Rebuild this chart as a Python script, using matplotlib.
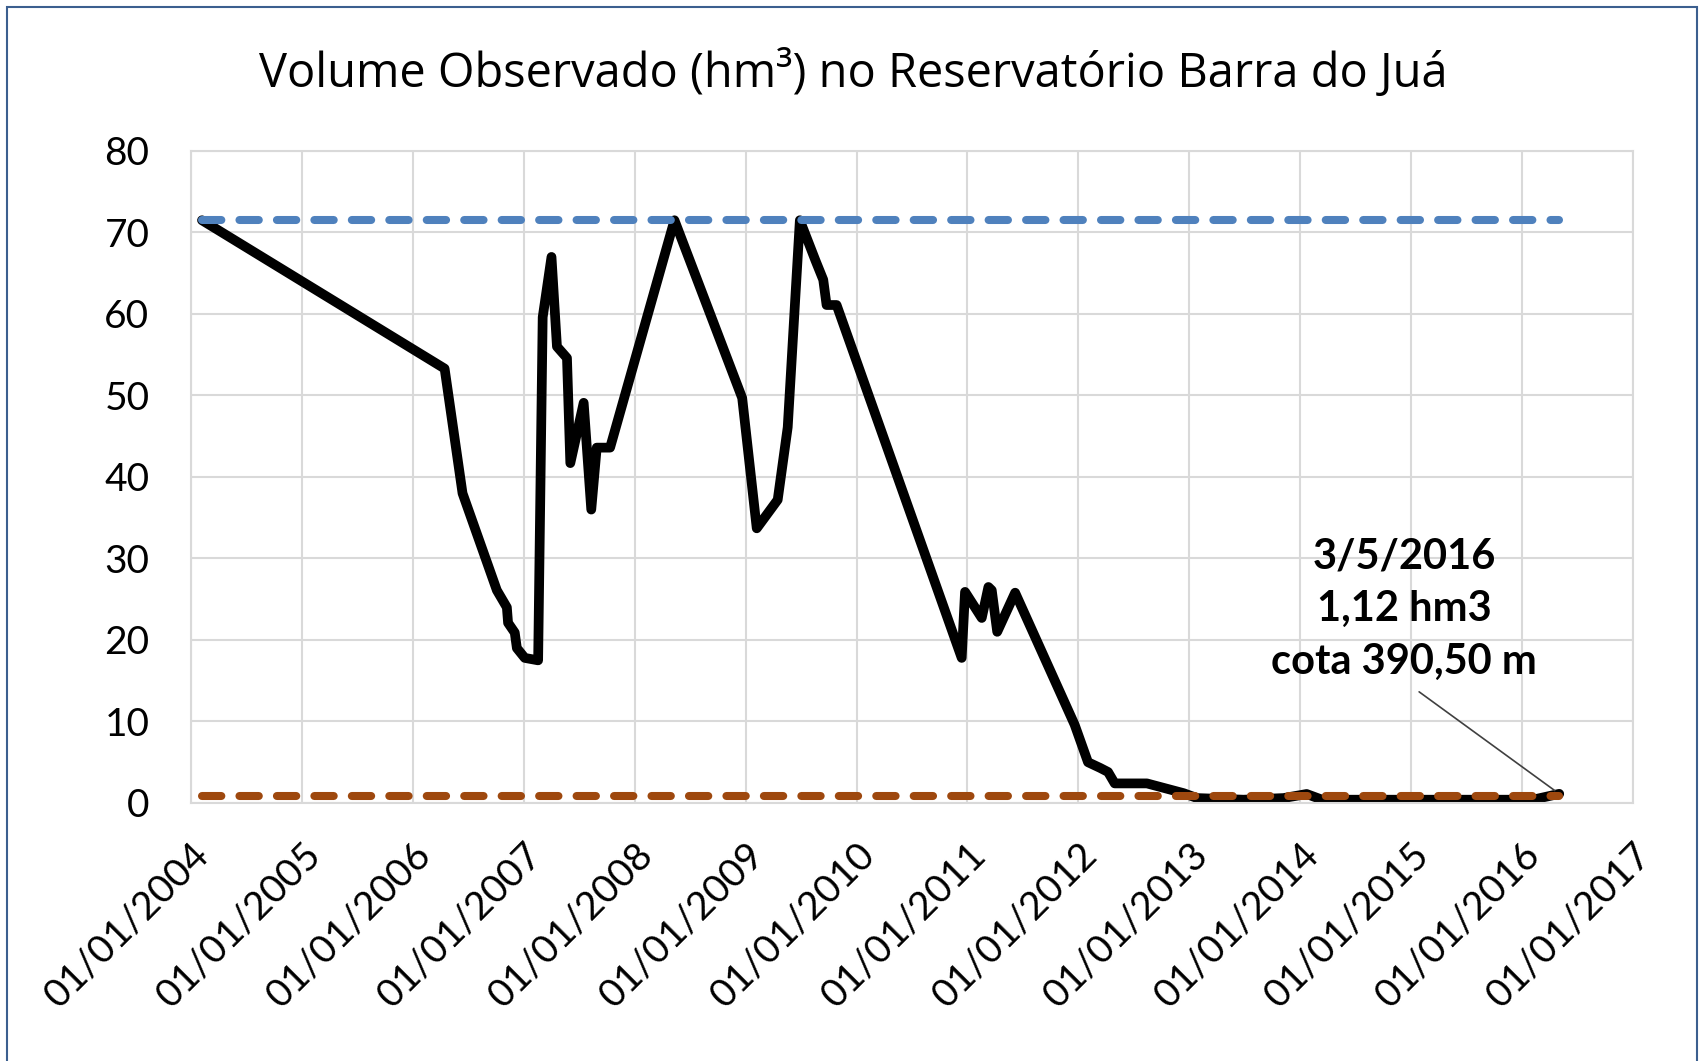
import matplotlib.pyplot as plt
import matplotlib.dates as mdates
import pandas as pd
from matplotlib.patches import Rectangle

plt.rcParams['font.family'] = ['Lato', 'DejaVu Sans']

# Volume observado (hm3)
datas = ['2004-02-06', '2006-04-15', '2006-06-13', '2006-10-04', '2006-11-06',
         '2006-11-10', '2006-12-02', '2006-12-09', '2007-01-04', '2007-02-17',
         '2007-03-04', '2007-04-02', '2007-04-20', '2007-05-23', '2007-06-03',
         '2007-07-17', '2007-08-11', '2007-08-29', '2007-10-12', '2008-05-11',
         '2008-12-20', '2009-02-06', '2009-04-16', '2009-05-19', '2009-06-28',
         '2009-08-18', '2009-09-13', '2009-09-24', '2009-10-27', '2010-12-13',
         '2010-12-24', '2011-02-17', '2011-03-11', '2011-03-22', '2011-04-09',
         '2011-06-07', '2011-12-20', '2012-02-02', '2012-03-13', '2012-04-08',
         '2012-04-30', '2012-08-14', '2012-12-13', '2013-01-26', '2013-06-28',
         '2013-11-07', '2014-01-22', '2014-03-14', '2016-02-06', '2016-05-03']
volume = [71.5, 53.3, 38.0, 26.1, 24.0,
          22.1, 20.9, 19.0, 17.8, 17.5,
          59.6, 67.0, 56.0, 54.6, 41.7,
          49.1, 36.0, 43.6, 43.6, 71.5,
          49.7, 33.7, 37.2, 46.1, 71.5,
          66.6, 64.2, 61.1, 61.1, 17.8,
          25.9, 22.7, 26.5, 26.1, 21.0,
          25.8, 9.6, 5.0, 4.3, 3.8,
          2.4, 2.4, 1.2, 0.6, 0.4,
          0.6, 1.1, 0.4, 0.4, 1.12]

vol_max = 71.5    # capacidade
vol_morto = 0.9   # volume morto

titulo = 'Volume Observado (hm³) no Reservatório Barra do Juá'
nota = '3/5/2016\n1,12 hm3\ncota 390,50 m'

datas = pd.to_datetime(datas)

fig = plt.figure(figsize=(17, 10.61), dpi=100)
ax = fig.add_axes([0.1124, 0.2432, 0.8482, 0.6145])

ax.plot(datas, volume, color='black', lw=7, solid_joinstyle='round',
        solid_capstyle='round', zorder=2)
lim = [datas[0], datas[-1]]
ax.plot(lim, [vol_max, vol_max], color='#4F81BD', lw=5.8, dashes=(2.4, 2.25),
        dash_capstyle='round', zorder=3)
ax.plot(lim, [vol_morto, vol_morto], color='#9E480E', lw=5.8, dashes=(2.4, 2.25),
        dash_capstyle='round', zorder=3)

ax.set_xlim(pd.Timestamp('2004-01-01'), pd.Timestamp('2017-01-01'))
ax.set_ylim(0, 80)
ax.set_yticks(range(0, 81, 10))
ax.xaxis.set_major_locator(mdates.YearLocator())
ax.xaxis.set_major_formatter(mdates.DateFormatter('%d/%m/%Y'))
ax.tick_params(length=0, labelsize=28, colors='black')
ax.tick_params(axis='y', pad=30)
ax.tick_params(axis='x', pad=24)
plt.setp(ax.get_xticklabels(), rotation=45, ha='right', rotation_mode='anchor')

ax.grid(True, color='#D9D9D9', lw=1.5)
ax.set_axisbelow(True)
for s in ax.spines.values():
    s.set_color('#D9D9D9')
    s.set_linewidth(1.5)

fig.text(0.502, 0.9305, titulo, ha='center', va='center', fontsize=33.8,
         family=['Open Sans', 'DejaVu Sans'])

ax.annotate(nota, xy=(datas[-1], volume[-1]),
            xytext=(pd.Timestamp('2014-12-09'), 23.8), ha='center', va='center',
            fontsize=30, fontweight='bold', linespacing=1.48,
            arrowprops=dict(arrowstyle='-', color='#404040', lw=1.2,
                            relpos=(0.5, 0), shrinkA=10, shrinkB=4))

fig.patches.append(Rectangle((7 / 1700, -0.05), 1690 / 1700, 1.05 - 7 / 1061,
                             transform=fig.transFigure, fill=False,
                             edgecolor='#3C5F8F', lw=1.5))

plt.savefig('out.png')
